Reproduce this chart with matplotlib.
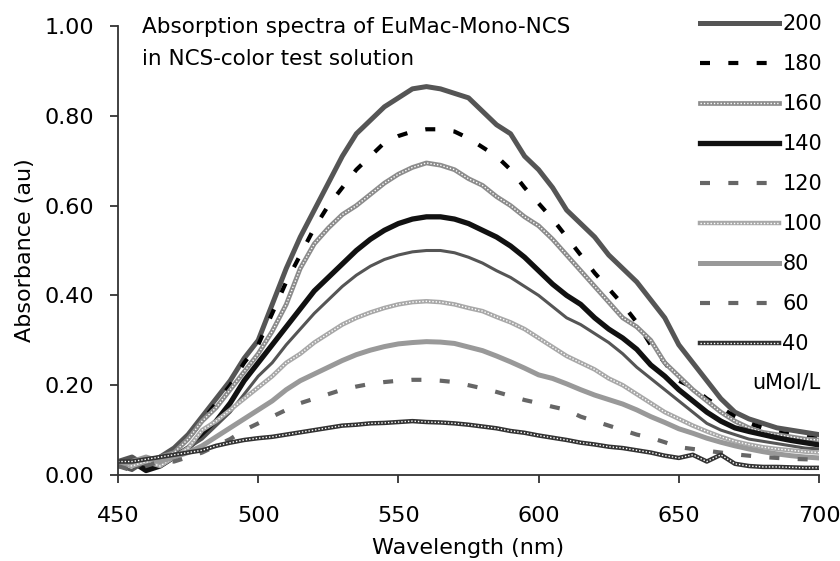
import matplotlib
matplotlib.use("Agg")
import matplotlib.pyplot as plt
from matplotlib.lines import Line2D
from matplotlib.legend_handler import HandlerTuple

# wavelength grid (nm)
wavelength = [450, 455, 460, 465, 470, 475, 480, 485, 490, 495,
              500, 505, 510, 515, 520, 525, 530, 535, 540, 545,
              550, 555, 560, 565, 570, 575, 580, 585, 590, 595,
              600, 605, 610, 615, 620, 625, 630, 635, 640, 645,
              650, 655, 660, 665, 670, 675, 680, 685, 690, 695, 700]

# absorbance, one list per concentration (uMol/L)
abs_200 = [0.03, 0.04, 0.02, 0.04, 0.06, 0.09, 0.13, 0.17, 0.21, 0.26,
           0.30, 0.38, 0.46, 0.53, 0.59, 0.65, 0.71, 0.76, 0.79, 0.82,
           0.84, 0.86, 0.865, 0.86, 0.85, 0.84, 0.81, 0.78, 0.76, 0.71,
           0.68, 0.64, 0.59, 0.56, 0.53, 0.49, 0.46, 0.43, 0.39, 0.35,
           0.29, 0.25, 0.21, 0.17, 0.14, 0.125, 0.115, 0.105, 0.10, 0.095, 0.09]
abs_180 = [0.02, 0.03, 0.02, 0.03, 0.05, 0.08, 0.12, 0.16, 0.20, 0.25,
           0.29, 0.36, 0.43, 0.49, 0.55, 0.60, 0.64, 0.68, 0.71, 0.74,
           0.755, 0.765, 0.77, 0.77, 0.765, 0.75, 0.73, 0.71, 0.68, 0.64,
           0.605, 0.57, 0.53, 0.49, 0.45, 0.415, 0.38, 0.34, 0.29, 0.25,
           0.21, 0.195, 0.17, 0.15, 0.13, 0.115, 0.105, 0.095, 0.09, 0.085, 0.08]
abs_160 = [0.03, 0.02, 0.03, 0.04, 0.05, 0.08, 0.12, 0.15, 0.19, 0.23,
           0.27, 0.32, 0.38, 0.46, 0.515, 0.55, 0.58, 0.60, 0.625, 0.65,
           0.67, 0.685, 0.695, 0.69, 0.68, 0.66, 0.645, 0.62, 0.60, 0.575,
           0.555, 0.525, 0.49, 0.455, 0.42, 0.385, 0.35, 0.33, 0.30, 0.25,
           0.22, 0.19, 0.165, 0.14, 0.12, 0.105, 0.095, 0.09, 0.085, 0.08, 0.078]
abs_140 = [0.02, 0.03, 0.01, 0.02, 0.04, 0.06, 0.09, 0.12, 0.16, 0.21,
           0.25, 0.29, 0.33, 0.37, 0.41, 0.44, 0.47, 0.50, 0.525, 0.545,
           0.56, 0.57, 0.575, 0.575, 0.57, 0.56, 0.545, 0.53, 0.51, 0.485,
           0.455, 0.425, 0.40, 0.38, 0.35, 0.325, 0.305, 0.28, 0.245, 0.22,
           0.19, 0.165, 0.14, 0.12, 0.105, 0.097, 0.09, 0.083, 0.077, 0.072, 0.067]
abs_120 = [0.02, 0.01, 0.03, 0.02, 0.04, 0.06, 0.08, 0.11, 0.14, 0.18,
           0.22, 0.25, 0.29, 0.325, 0.36, 0.39, 0.42, 0.445, 0.465, 0.48,
           0.49, 0.497, 0.50, 0.50, 0.495, 0.485, 0.472, 0.455, 0.44, 0.42,
           0.40, 0.375, 0.35, 0.335, 0.315, 0.295, 0.27, 0.24, 0.215, 0.19,
           0.165, 0.14, 0.115, 0.10, 0.09, 0.08, 0.075, 0.07, 0.065, 0.06, 0.058]
abs_100 = [0.03, 0.02, 0.03, 0.02, 0.04, 0.06, 0.10, 0.12, 0.145, 0.17,
           0.195, 0.22, 0.25, 0.27, 0.295, 0.315, 0.335, 0.35, 0.362, 0.372,
           0.38, 0.385, 0.387, 0.385, 0.38, 0.372, 0.365, 0.352, 0.34, 0.325,
           0.305, 0.285, 0.265, 0.25, 0.235, 0.215, 0.20, 0.18, 0.16, 0.14,
           0.125, 0.11, 0.097, 0.085, 0.075, 0.068, 0.062, 0.058, 0.055, 0.052, 0.05]
abs_80 = [0.02, 0.03, 0.04, 0.03, 0.04, 0.05, 0.065, 0.085, 0.105, 0.125,
          0.145, 0.165, 0.19, 0.21, 0.225, 0.24, 0.255, 0.268, 0.278, 0.286,
          0.292, 0.295, 0.297, 0.296, 0.293, 0.285, 0.277, 0.265, 0.252, 0.238,
          0.223, 0.215, 0.203, 0.19, 0.178, 0.168, 0.158, 0.145, 0.13, 0.117,
          0.103, 0.093, 0.082, 0.073, 0.065, 0.058, 0.052, 0.047, 0.043, 0.04, 0.038]
abs_60 = [0.02, 0.01, 0.02, 0.03, 0.03, 0.04, 0.05, 0.065, 0.08, 0.10,
          0.115, 0.13, 0.145, 0.16, 0.17, 0.18, 0.19, 0.197, 0.203, 0.207,
          0.21, 0.212, 0.212, 0.21, 0.207, 0.20, 0.193, 0.185, 0.176, 0.167,
          0.16, 0.152, 0.145, 0.13, 0.12, 0.11, 0.10, 0.09, 0.083, 0.073,
          0.062, 0.058, 0.054, 0.05, 0.046, 0.043, 0.04, 0.038, 0.036, 0.035, 0.034]
abs_40 = [0.03, 0.03, 0.035, 0.04, 0.045, 0.05, 0.055, 0.065, 0.072, 0.078,
          0.082, 0.085, 0.09, 0.095, 0.10, 0.105, 0.11, 0.112, 0.115, 0.116,
          0.118, 0.12, 0.118, 0.117, 0.115, 0.112, 0.108, 0.104, 0.098, 0.094,
          0.088, 0.083, 0.078, 0.072, 0.068, 0.063, 0.06, 0.055, 0.05, 0.043,
          0.038, 0.045, 0.03, 0.045, 0.025, 0.02, 0.018, 0.018, 0.017, 0.016, 0.016]

labels = ["200", "180", "160", "140", "120", "100", "80", "60", "40"]

fig = plt.figure(figsize=(8.4, 5.61), dpi=100)
ax = fig.add_axes([118 / 840, 1 - 475 / 561, 701 / 840, 449 / 561])

dots = dict(color="white", lw=1.0, linestyle=(0, (1, 1.4)))
dash = (0, (2.4, 4.4))

handles = []
# 200
l, = ax.plot(wavelength, abs_200, color="#555555", lw=3.6)
handles.append(l)
# 180
l, = ax.plot(wavelength, abs_180, color="black", lw=3.0, linestyle=dash)
handles.append(l)
# 160 - gray chain pattern
a, = ax.plot(wavelength, abs_160, color="#8c8c8c", lw=3.4)
b, = ax.plot(wavelength, abs_160, **dots)
handles.append((a, b))
# 140
l, = ax.plot(wavelength, abs_140, color="#111111", lw=3.8)
handles.append(l)
# 120 - looks solid on the curve, dashed in the key
ax.plot(wavelength, abs_120, color="#555555", lw=2.2)
handles.append(Line2D([], [], color="#666666", lw=3.0, linestyle=dash))
# 100 - light chain pattern
a, = ax.plot(wavelength, abs_100, color="#a8a8a8", lw=3.2)
b, = ax.plot(wavelength, abs_100, **dots)
handles.append((a, b))
# 80
l, = ax.plot(wavelength, abs_80, color="#999999", lw=3.6)
handles.append(l)
# 60
l, = ax.plot(wavelength, abs_60, color="#666666", lw=3.0, linestyle=dash)
handles.append(l)
# 40 - dark chain pattern
a, = ax.plot(wavelength, abs_40, color="#333333", lw=3.2)
b, = ax.plot(wavelength, abs_40, **dots)
handles.append((a, b))

ax.set_xlim(450, 700)
ax.set_ylim(0, 1.0)
ax.set_xticks([450, 500, 550, 600, 650, 700])
ax.set_yticks([0, 0.2, 0.4, 0.6, 0.8, 1.0])
ax.yaxis.set_major_formatter(plt.FormatStrFormatter("%.2f"))

for side in ["top", "right"]:
    ax.spines[side].set_visible(False)
for side in ["left", "bottom"]:
    ax.spines[side].set_color("#333333")
    ax.spines[side].set_linewidth(1.3)

ax.tick_params(axis="both", direction="out", length=6, width=1.3, color="#333333",
               labelsize=16)
ax.tick_params(axis="x", pad=16)
ax.tick_params(axis="y", pad=11)

ax.set_xlabel("Wavelength (nm)", fontsize=16, labelpad=9)
ax.set_ylabel("Absorbance (au)", fontsize=16, labelpad=7)

ax.text(0.034, 0.998, "Absorption spectra of EuMac-Mono-NCS", transform=ax.transAxes,
        fontsize=15.5, va="center", ha="left")
ax.text(0.034, 0.9265, "in NCS-color test solution", transform=ax.transAxes,
        fontsize=15.5, va="center", ha="left")

fig.legend(handles, labels, loc="upper left", bbox_to_anchor=(700 / 840, 1 - 14 / 561),
           frameon=False, fontsize=15, handlelength=3.8, handletextpad=0.15,
           labelspacing=0.96, borderpad=0, borderaxespad=0,
           handler_map={tuple: HandlerTuple(ndivide=1, pad=0)})
fig.text(820 / 840, 1 - 383 / 561, "uMol/L", fontsize=15, ha="right", va="center")

fig.savefig("out.png", dpi=100)
